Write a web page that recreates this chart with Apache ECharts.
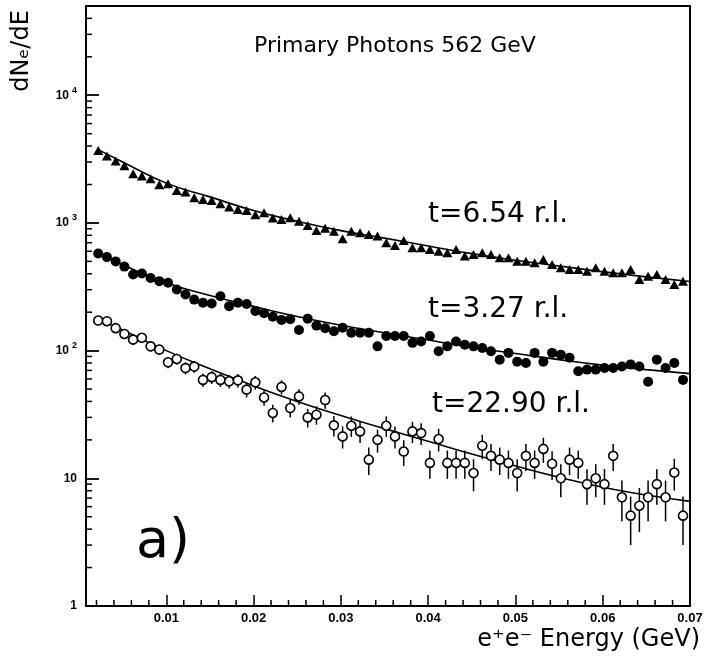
<!DOCTYPE html>
<html><head><meta charset="utf-8">
<script src="https://cdn.jsdelivr.net/npm/echarts@6/dist/echarts.min.js"></script>
<style>html,body{margin:0;padding:0;background:#fff}#c{width:708px;height:659px}</style>
</head><body><div id="c"></div>
<script>
// ---- data ----
const energy = [0.0022,0.0032,0.0042,0.0052,0.0062,0.0072,0.0082,0.0092,0.0102,0.0112,
  0.0122,0.0132,0.0142,0.0152,0.0162,0.0172,0.0182,0.0192,0.0202,0.0212,
  0.0222,0.0232,0.0242,0.0252,0.0262,0.0272,0.0282,0.0292,0.0302,0.0312,
  0.0322,0.0332,0.0342,0.0352,0.0362,0.0372,0.0382,0.0392,0.0402,0.0412,
  0.0422,0.0432,0.0442,0.0452,0.0462,0.0472,0.0482,0.0492,0.0502,0.0512,
  0.0522,0.0532,0.0542,0.0552,0.0562,0.0572,0.0582,0.0592,0.0602,0.0612,
  0.0622,0.0632,0.0642,0.0652,0.0662,0.0672,0.0682,0.0692];
const t654 = [3700,3350,3050,2800,2430,2330,2222,1995,2030,1798,
  1745,1577,1529,1500,1415,1331,1276,1253,1159,1202,
  1091,1065,1098,1032,955,873,910,862,751,862,
  838,813,789,699,666,729,640,639,620,601,
  584,620,550,566,584,566,533,533,502,502,
  488,517,473,445,432,432,419,445,419,407,
  407,432,360,383,394,360,329,350];
const t327 = [577,540,500,455,395,402,371,350,340,301,
  275,251,237,234,267,223,237,232,204,196,
  184,174,176,145,178,157,150,142,151,138,
  138,138,108,130,130,130,115,118,130,99,
  108,118,111,108,105,99,85,96,82,80,
  96,82,96,93,88,69,71,71,73,73,
  75,78,75,57,85,73,80,59];
const t2290 = [172,170,150,135,122,126,108,102,81,86,
  73,75,59,62,59,57.5,58.5,49.5,56.5,43,
  32.5,52,35.5,43.8,30,31.5,41,26,21.3,25.8,
  23.3,14,20,25.8,21.3,16.2,23.3,22.6,13.2,20.3,
  13.2,13.2,13.2,11,18,15,14,13.2,11,15,
  13.2,17,13,10,14,13.2,9,10,9,15,
  7.1,5.1,6.1,7.1,9,7.1,11.1,5.1];
const t2290Err = [12.1,12.0,11.3,10.7,10.2,10.3,9.6,9.3,8.3,8.5,
  7.9,8.0,7.1,7.2,7.1,7.0,7.0,6.5,6.9,6.0,
  5.2,6.6,5.5,6.1,5.0,5.2,5.9,4.7,4.2,4.7,
  4.4,3.4,4.1,4.7,4.2,3.7,4.4,4.4,3.3,4.1,
  3.3,3.3,3.3,3.1,3.9,3.6,3.4,3.3,3.1,3.6,
  3.3,3.8,3.3,2.9,3.4,3.3,2.8,2.9,2.8,3.6,
  2.5,2.1,2.3,2.5,2.8,2.5,3.1,2.1];
const fitEnergy = [0.0022,0.005,0.01,0.015,0.02,0.025,0.03,0.035,0.04,0.045,0.05,0.055,0.06,0.065,0.07];
const fit654  = [3750,3000,2050,1600,1250,1030,870,760,660,575,510,460,415,378,348];
const fit327  = [580,470,340,270,222,185,158,138,121,106,95,85,77,71,66];
const fit2290 = [178,145,100,72,53,40,31,24.5,19.5,15.5,12.5,10.2,8.5,7.4,6.6];
const xTickLabels = [0.01,0.02,0.03,0.04,0.05,0.06,0.07];
const xMinorTicks = [0.002,0.004,0.006,0.008,0.012,0.014,0.016,0.018,0.022,0.024,0.026,0.028,
  0.032,0.034,0.036,0.038,0.042,0.044,0.046,0.048,0.052,0.054,0.056,0.058,0.062,0.064,0.066,0.068];
const yTickLabels = [1,10,100,1000,10000];
const yMinorTicks = [2,3,4,5,6,7,8,9,20,30,40,50,60,70,80,90,200,300,400,500,600,700,800,900,
  2000,3000,4000,5000,6000,7000,8000,9000,20000,30000,40000];

const X_MIN = 0.0008, X_MAX = 0.07, Y_MIN = 1, Y_MAX = 50000;
const ANN = '"DejaVu Sans"';

const chart = echarts.init(document.getElementById('c'), null, {renderer: 'canvas'});

function supLabel(v) {
  const e = Math.round(Math.log10(v));
  if (Math.abs(Math.log10(v) - e) > 1e-6 || yTickLabels.indexOf(Math.pow(10, e)) < 0) return '';
  if (e === 0) return '{b|1}';
  if (e === 1) return '{b|10}';
  return '{b|10}{s|' + e + '}';
}

const option = {
  animation: false,
  backgroundColor: '#fff',
  grid: [
    {left: 86, top: 6, right: 18, bottom: 53, show: true, borderColor: '#000', borderWidth: 2, containLabel: false},
    {left: 86, top: 8, width: 604, height: 86, show: false, containLabel: false}
  ],
  xAxis: [{
    type: 'value', min: X_MIN, max: X_MAX,
    axisLine: {show: true, onZero: false, lineStyle: {color: '#000', width: 2}},
    splitLine: {show: false},
    axisTick: {show: true, inside: true, length: 11, customValues: xTickLabels, lineStyle: {color: '#000', width: 1.5}},
    axisLabel: {customValues: xTickLabels, formatter: v => v.toFixed(2), color: '#000',
      fontFamily: 'Liberation Sans', fontWeight: 'bold', fontSize: 13, margin: 6}
  }, {
    gridIndex: 1, type: 'value', min: 0, max: 1, show: false
  }],
  yAxis: [{
    type: 'log', logBase: 10, min: Y_MIN, max: Y_MAX,
    axisLine: {show: true, onZero: false, lineStyle: {color: '#000', width: 2}},
    splitLine: {show: false},
    minorTick: {show: false},
    axisTick: {show: true, inside: true, length: 13, lineStyle: {color: '#000', width: 1.8}},
    axisLabel: {
      formatter: supLabel, margin: 9, color: '#000', fontSize: 12, fontWeight: 'bold', fontFamily: 'Liberation Sans',
      rich: {
        b: {fontFamily: 'Liberation Sans', fontWeight: 'bold', fontSize: 12, color: '#000'},
        s: {fontFamily: 'Liberation Sans', fontWeight: 'bold', fontSize: 9, color: '#000', padding: [0, 0, 10, 3]}
      }
    }
  }, {
    gridIndex: 1, type: 'value', min: 0, max: 1, position: 'left',
    axisLine: {show: false}, axisTick: {show: false}, axisLabel: {show: false}, splitLine: {show: false},
    name: 'dN\u2091/dE', nameLocation: 'middle', nameGap: 52,
    nameTextStyle: {fontFamily: 'DejaVu Sans', fontSize: 24, color: '#000'}
  }],
  series: [
    { // y minor ticks
      type: 'custom', silent: true, clip: false, z: 5,
      data: yMinorTicks.map(v => [X_MIN, v]),
      renderItem: (p, api) => {
        const pt = api.coord([X_MIN, api.value(1)]);
        return {type: 'line', shape: {x1: pt[0], y1: pt[1], x2: pt[0] + 6, y2: pt[1]}, style: {stroke: '#000', lineWidth: 1.5}};
      }
    },
    { // x minor ticks
      type: 'custom', silent: true, clip: false, z: 5,
      data: xMinorTicks.map(v => [v, Y_MIN]),
      renderItem: (p, api) => {
        const pt = api.coord([api.value(0), Y_MIN]);
        return {type: 'line', shape: {x1: pt[0], y1: pt[1], x2: pt[0], y2: pt[1] - 6}, style: {stroke: '#000', lineWidth: 1.5}};
      }
    },
    {type: 'line', data: fitEnergy.map((x, i) => [x, fit654[i]]), smooth: true, symbol: 'none', lineStyle: {color: '#000', width: 1.6}, z: 2},
    {type: 'line', data: fitEnergy.map((x, i) => [x, fit327[i]]), smooth: true, symbol: 'none', lineStyle: {color: '#000', width: 1.6}, z: 2},
    {type: 'line', data: fitEnergy.map((x, i) => [x, fit2290[i]]), smooth: true, symbol: 'none', lineStyle: {color: '#000', width: 1.6}, z: 2},
    {type: 'scatter', data: energy.map((x, i) => [x, t654[i]]), symbol: 'triangle', symbolSize: [10, 9],
      itemStyle: {color: '#000', opacity: 1}, z: 3},
    {type: 'scatter', data: energy.map((x, i) => [x, t327[i]]), symbol: 'circle', symbolSize: 10,
      itemStyle: {color: '#000', opacity: 1}, z: 3},
    { // error bars
      type: 'custom', z: 3,
      data: energy.map((x, i) => [x, t2290[i], t2290Err[i]]),
      encode: {x: 0, y: 1},
      renderItem: (p, api) => {
        const x = api.value(0), y = api.value(1), e = api.value(2);
        const a = api.coord([x, y + e]);
        const b = api.coord([x, Math.max(y - e, Y_MIN)]);
        return {type: 'line', shape: {x1: a[0], y1: a[1], x2: b[0], y2: b[1]}, style: {stroke: '#000', lineWidth: 1.5}};
      }
    },
    {type: 'scatter', data: energy.map((x, i) => [x, t2290[i]]), symbol: 'circle', symbolSize: 9,
      itemStyle: {color: '#fff', borderColor: '#000', borderWidth: 1.6, opacity: 1}, z: 4}
  ],
  graphic: [
    {type: 'text', x: 254, y: 46, style: {text: 'Primary Photons 562 GeV', font: '22px ' + ANN, fill: '#000', textVerticalAlign: 'middle'}},
    {type: 'text', x: 428, y: 215, style: {text: 't=6.54 r.l.', font: '28px ' + ANN, fill: '#000', textVerticalAlign: 'middle'}},
    {type: 'text', x: 428, y: 310, style: {text: 't=3.27 r.l.', font: '28px ' + ANN, fill: '#000', textVerticalAlign: 'middle'}},
    {type: 'text', x: 432, y: 405, style: {text: 't=22.90 r.l.', font: '28px ' + ANN, fill: '#000', textVerticalAlign: 'middle'}},
    {type: 'text', x: 136, y: 543, style: {text: 'a)', font: '54px ' + ANN, fill: '#000', textVerticalAlign: 'middle'}},
    {type: 'text', x: 700, y: 640, style: {text: 'e\u207Ae\u207B Energy (GeV)', font: '24px ' + ANN, fill: '#000', textAlign: 'right', textVerticalAlign: 'middle'}}
  ]
};
chart.setOption(option);
</script>
</body></html>
